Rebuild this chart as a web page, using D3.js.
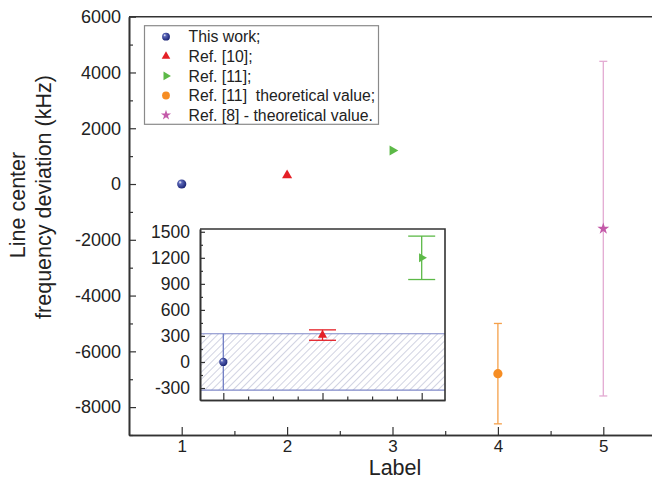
<!DOCTYPE html>
<html>
<head>
<meta charset="utf-8">
<script src="https://cdn.jsdelivr.net/npm/d3@7"></script>
<style>
  body { margin: 0; background: #fff; }
  svg { display: block; font-family: "Liberation Sans", Arial, sans-serif; }
  .axis path, .axis line { stroke: #333; }
  .axis path { stroke-width: 1.6; }
  .axis line { stroke-width: 1.2; }
  .axis text { fill: #222; }
</style>
</head>
<body>
<div id="chart"></div>
<script>
// ── data ─────────────────────────────────────────────
const seriesNames = ["This work;", "Ref. [10];", "Ref. [11];", "Ref. [11]  theoretical value;", "Ref. [8] - theoretical value."];
const labels = [1, 2, 3, 4, 5];
const values = [0, 310, 1200, -6800, -1600];
const errors = [325, 60, 250, 1800, 6000];
const colors = ["#2a3690", "#e41f26", "#5cb947", "#f68d23", "#c45aa9"];
const errColors = ["#6f7dc4", "#e41f26", "#5cb947", "#f5a04a", "#e3aad2"];
const yTicks = [-8000, -6000, -4000, -2000, 0, 2000, 4000, 6000];
const insetLabels = [1, 2, 3];
const insetTicks = [-300, 0, 300, 600, 900, 1200, 1500];

const width = 652, height = 480;
const plain = d => String(d);

const svg = d3.select("#chart").append("svg")
    .attr("width", width)
    .attr("height", height);

const defs = svg.append("defs");

// sphere gradient for "This work"
const grad = defs.append("radialGradient")
    .attr("id", "sphere")
    .attr("cx", "40%").attr("cy", "40%").attr("r", "60%")
    .attr("fx", "32%").attr("fy", "30%");
grad.append("stop").attr("offset", "0%").attr("stop-color", "#ffffff");
grad.append("stop").attr("offset", "30%").attr("stop-color", "#5a66b8");
grad.append("stop").attr("offset", "100%").attr("stop-color", "#1c2676");

// hatch pattern for the inset band
const hatch = defs.append("pattern")
    .attr("id", "hatch")
    .attr("patternUnits", "userSpaceOnUse")
    .attr("width", 5).attr("height", 5)
    .attr("patternTransform", "rotate(45)");
hatch.append("line")
    .attr("x1", 0).attr("y1", 0).attr("x2", 0).attr("y2", 5)
    .attr("stroke", "#a4a7c6").attr("stroke-width", 1);

// ── main scales ──────────────────────────────────────
const x = d3.scaleLinear().domain([0.5, 5.5]).range([129, 656]);
const y = d3.scaleLinear().domain([-9000, 6000]).range([435, 16.7]);

// marker drawing helper
const drawMarker = (g, i, cx, cy, scale) => {
    const k = scale || 1;
    if (i === 0) {
        g.append("circle").attr("cx", cx).attr("cy", cy).attr("r", 4.6 * k)
            .attr("fill", "url(#sphere)");
    } else if (i === 1) {
        g.append("path").attr("d", d3.symbol(d3.symbolTriangle, 44 * k * k)())
            .attr("transform", `translate(${cx},${cy})`).attr("fill", colors[i]);
    } else if (i === 2) {
        g.append("path").attr("d", d3.symbol(d3.symbolTriangle, 44 * k * k)())
            .attr("transform", `translate(${cx},${cy}) rotate(90)`).attr("fill", colors[i]);
    } else if (i === 3) {
        g.append("circle").attr("cx", cx).attr("cy", cy).attr("r", 4.6 * k)
            .attr("fill", colors[i]);
    } else {
        g.append("path").attr("d", d3.symbol(d3.symbolStar, 44 * k * k)())
            .attr("transform", `translate(${cx},${cy})`).attr("fill", colors[i]);
    }
};

const drawErrorBar = (g, cx, y0, y1, color, cap, sw) => {
    g.append("line").attr("x1", cx).attr("x2", cx).attr("y1", y0).attr("y2", y1)
        .attr("stroke", color).attr("stroke-width", sw);
    if (cap > 0) {
        [y0, y1].forEach(yy => {
            g.append("line").attr("x1", cx - cap).attr("x2", cx + cap).attr("y1", yy).attr("y2", yy)
                .attr("stroke", color).attr("stroke-width", sw);
        });
    }
};

// ── main axes ────────────────────────────────────────
const yMinor = d3.range(-9000, 6001, 1000).filter(v => v % 2000 !== 0);
svg.append("g").attr("class", "axis")
    .attr("transform", `translate(${x.range()[0]},0)`)
    .call(d3.axisLeft(y).tickValues(yMinor).tickSizeInner(-4).tickSizeOuter(0).tickFormat(""));
const leftAxis = svg.append("g").attr("class", "axis")
    .attr("transform", `translate(${x.range()[0]},0)`)
    .call(d3.axisLeft(y).tickValues(yTicks).tickSizeInner(-7).tickSizeOuter(0).tickPadding(8).tickFormat(plain));
leftAxis.selectAll("text").style("font-size", "18px");

const xMinor = d3.range(1.5, 5.5, 1);
svg.append("g").attr("class", "axis")
    .attr("transform", `translate(0,${y.range()[0]})`)
    .call(d3.axisBottom(x).tickValues(xMinor).tickSizeInner(-4).tickSizeOuter(0).tickFormat(""));
const bottomAxis = svg.append("g").attr("class", "axis")
    .attr("transform", `translate(0,${y.range()[0]})`)
    .call(d3.axisBottom(x).tickValues(labels).tickSizeInner(-8).tickSizeOuter(0).tickPadding(5).tickFormat(plain));
bottomAxis.selectAll("text").style("font-size", "17px");

// top frame line
svg.append("line")
    .attr("x1", x.range()[0]).attr("x2", x.range()[1])
    .attr("y1", y.range()[1]).attr("y2", y.range()[1])
    .attr("stroke", "#333").attr("stroke-width", 1.6);

// axis titles
svg.append("text")
    .text("Label")
    .attr("x", 395).attr("y", 475)
    .attr("text-anchor", "middle")
    .style("font-size", "21.5px").attr("fill", "#222");

svg.append("text")
    .text("Line center")
    .attr("transform", "translate(25,205) rotate(-90)")
    .attr("text-anchor", "middle")
    .style("font-size", "21.5px").attr("fill", "#222");
svg.append("text")
    .text("frequency deviation (kHz)")
    .attr("transform", "translate(51,197) rotate(-90)")
    .attr("text-anchor", "middle")
    .style("font-size", "21.5px").attr("fill", "#222");

// ── main points ──────────────────────────────────────
// which error bars show in the main panel, and their cap half-widths
const mainShowErr = [false, true, false, true, true];
const mainCaps = [0, 0, 0, 4, 4];
const mainG = svg.append("g");
values.forEach((v, i) => {
    if (mainShowErr[i]) {
        drawErrorBar(mainG, x(labels[i]), y(v + errors[i]), y(v - errors[i]), errColors[i], mainCaps[i], 1.3);
    }
});
values.forEach((v, i) => drawMarker(mainG, i, x(labels[i]), y(v)));

// ── legend ───────────────────────────────────────────
const legend = svg.append("g").attr("transform", "translate(144.5,25.7)");
legend.append("rect")
    .attr("width", 234).attr("height", 98.6)
    .attr("fill", "#fff").attr("stroke", "#8a8a8a").attr("stroke-width", 1.2);
seriesNames.forEach((name, i) => {
    const ry = 11 + i * 19.6;
    drawMarker(legend, i, 21.5, ry, 0.85);
    legend.append("text")
        .text(name)
        .attr("x", 44).attr("y", ry)
        .attr("dy", "0.36em")
        .attr("xml:space", "preserve")
        .style("white-space", "pre")
        .style("font-size", "15.8px").attr("fill", "#222");
});

// ── inset ────────────────────────────────────────────
const ix = d3.scaleLinear().domain([0.765, 3.235]).range([200, 445]);
const iy = d3.scaleLinear().domain([-438, 1532]).range([400, 229]);
const inset = svg.append("g");

inset.append("rect")
    .attr("x", ix.range()[0]).attr("y", iy.range()[1])
    .attr("width", ix.range()[1] - ix.range()[0])
    .attr("height", iy.range()[0] - iy.range()[1])
    .attr("fill", "#fff");

// hatched band of this work's uncertainty
const bandTop = iy(values[0] + errors[0]);
const bandBot = iy(values[0] - errors[0]);
inset.append("rect")
    .attr("x", ix.range()[0]).attr("y", bandTop)
    .attr("width", ix.range()[1] - ix.range()[0])
    .attr("height", bandBot - bandTop)
    .attr("fill", "url(#hatch)");
[bandTop, bandBot].forEach(yy => {
    inset.append("line")
        .attr("x1", ix.range()[0]).attr("x2", ix.range()[1])
        .attr("y1", yy).attr("y2", yy)
        .attr("stroke", "#7f88c8").attr("stroke-width", 1.2);
});

insetLabels.forEach((lab, i) => {
    const cx = ix(lab);
    if (i === 0) {
        inset.append("line").attr("x1", cx).attr("x2", cx)
            .attr("y1", bandTop).attr("y2", bandBot)
            .attr("stroke", errColors[0]).attr("stroke-width", 1.3);
    } else {
        drawErrorBar(inset, cx, iy(values[i] + errors[i]), iy(values[i] - errors[i]), errColors[i], 13.5, 1.3);
    }
});
insetLabels.forEach((lab, i) => drawMarker(inset, i, ix(lab), iy(values[i]), 0.9));

// inset axes
const iyMinor = d3.range(-300, 1501, 150).filter(v => v % 300 !== 0);
inset.append("g").attr("class", "axis")
    .attr("transform", `translate(${ix.range()[0]},0)`)
    .call(d3.axisLeft(iy).tickValues(iyMinor).tickSizeInner(-3).tickSizeOuter(0).tickFormat(""));
const insetLeft = inset.append("g").attr("class", "axis")
    .attr("transform", `translate(${ix.range()[0]},0)`)
    .call(d3.axisLeft(iy).tickValues(insetTicks).tickSizeInner(-5).tickSizeOuter(0).tickPadding(10).tickFormat(plain));
insetLeft.selectAll("text").style("font-size", "17.5px");

const ixMinor = d3.range(1, 3.01, 0.25).filter(v => v % 1 !== 0);
inset.append("g").attr("class", "axis")
    .attr("transform", `translate(0,${iy.range()[0]})`)
    .call(d3.axisBottom(ix).tickValues(ixMinor).tickSizeInner(-3.5).tickSizeOuter(0).tickFormat(""));
inset.append("g").attr("class", "axis")
    .attr("transform", `translate(0,${iy.range()[0]})`)
    .call(d3.axisBottom(ix).tickValues(insetLabels).tickSizeInner(-7).tickSizeOuter(0).tickFormat(""));

// inset top and right frame
inset.append("path")
    .attr("d", `M${ix.range()[0]},${iy.range()[1]}H${ix.range()[1]}V${iy.range()[0]}`)
    .attr("fill", "none").attr("stroke", "#333").attr("stroke-width", 1.6);
</script>
</body>
</html>
